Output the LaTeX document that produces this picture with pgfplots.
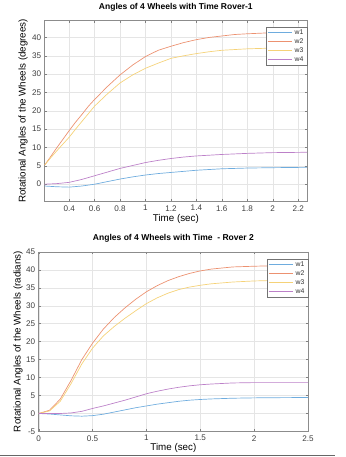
\documentclass[border=0pt]{standalone}
\usepackage{fontspec}
\setmainfont{Liberation Sans}
\usepackage{pgfplots}
\pgfplotsset{compat=1.18}
\definecolor{cw1}{RGB}{110,172,222}
\definecolor{cw2}{RGB}{236,145,112}
\definecolor{cw3}{RGB}{245,210,120}
\definecolor{cw4}{RGB}{188,128,200}
\pgfplotsset{
  myaxis/.style={
    scale only axis,
    anchor=south west,
    axis line style={draw=black!45, line width=0.5bp},
    grid=major,
    major grid style={draw=black!10, line width=0.4bp},
    tick style={draw=black!50, line width=0.4bp},
    tick align=inside,
    major tick length=2.5bp,
    /pgf/number format/assume math mode=true,
    ticklabel style={font=\fontsize{8.3}{9}\selectfont, text=black!75},
    xticklabel style={yshift=-0.5bp},
    label style={font=\fontsize{7.9}{9}\selectfont, text=black!80},
    title style={font=\bfseries\fontsize{8.7}{9.5}\selectfont, at={(0.5,1)}, anchor=south, yshift=0bp},
    legend style={draw=black!55, fill=white, font=\fontsize{7}{7.5}\selectfont, text=black!80,
      inner xsep=1.5bp, inner ysep=0.8bp, row sep=-1.2bp},
    legend cell align=left,
    legend image code/.code={\draw[##1] (0bp,0bp) -- (25bp,0bp);},
    every axis plot/.append style={line width=0.7bp},
  }
}
\begin{document}
\begin{tikzpicture}
\path (0bp,0bp) rectangle (351bp,457bp);
% top axis
\begin{axis}[myaxis,
  at={(45bp,260bp)}, width=267bp, height=184bp,
  xmin=0.207, xmax=2.27, ymin=-4.7, ymax=44.6,
  xtick={0.4,0.6,...,2.21}, ytick={0,5,...,40},
  title={Angles of 4 Wheels with Time Rover-1},
  xlabel={Time (sec)}, ylabel={Rotational Angles of the Wheels (degrees)},
  every axis x label/.style={at={([yshift=-18bp]axis description cs:0.5,0)}, anchor=center},
  every axis y label/.style={at={([xshift=-22bp]axis description cs:0,0.5)}, rotate=90, anchor=center},
  legend style={at={(1,0.967)}, anchor=north east},
]
\addplot[cw1] coordinates {(0.207,-0.5) (0.3,-0.7) (0.4,-0.8) (0.5,-0.5) (0.6,0.0) (0.7,0.7) (0.8,1.4) (0.9,2.0) (1.0,2.5) (1.1,2.9) (1.2,3.2) (1.3,3.5) (1.4,3.8) (1.5,4.0) (1.6,4.2) (1.8,4.4) (2.0,4.5) (2.27,4.6)};
\addplot[cw2] coordinates {(0.207,5.2) (0.25,7.3) (0.3,9.8) (0.35,12.2) (0.4,14.6) (0.45,16.9) (0.5,19.0) (0.55,21.2) (0.6,23.1) (0.7,26.6) (0.8,29.8) (0.9,32.5) (1.0,34.8) (1.1,36.5) (1.2,37.6) (1.3,38.6) (1.4,39.4) (1.5,40.0) (1.6,40.4) (1.7,40.8) (1.8,41.0) (2.0,41.3) (2.2,41.4) (2.27,41.4)};
\addplot[cw3] coordinates {(0.207,5.2) (0.25,7.0) (0.3,9.0) (0.35,10.9) (0.4,12.8) (0.45,15.0) (0.5,17.1) (0.55,19.2) (0.6,21.3) (0.7,24.6) (0.8,27.6) (0.9,29.8) (1.0,31.6) (1.1,33.0) (1.2,34.3) (1.3,35.0) (1.4,35.6) (1.5,36.1) (1.6,36.5) (1.7,36.7) (1.8,36.9) (2.0,37.1) (2.27,37.2)};
\addplot[cw4] coordinates {(0.207,0.0) (0.3,0.15) (0.4,0.5) (0.5,1.3) (0.6,2.3) (0.7,3.3) (0.8,4.3) (0.9,5.1) (1.0,5.9) (1.1,6.5) (1.2,7.0) (1.3,7.4) (1.4,7.7) (1.5,7.9) (1.6,8.1) (1.8,8.4) (2.0,8.6) (2.27,8.7)};
\legend{w1,w2,w3,w4}
\end{axis}
% bottom axis
\begin{axis}[myaxis,
  at={(39bp,26bp)}, width=274bp, height=182.7bp,
  xmin=0, xmax=2.5, ymin=-5, ymax=45,
  xtick={0,0.5,...,2.5}, ytick={-5,0,...,45},
  title={Angles of 4 Wheels with Time\ \ - Rover 2},
  xlabel={Time (sec)}, ylabel={Rotational Angles of the Wheels (radians)},
  every axis x label/.style={at={([yshift=-17bp]axis description cs:0.5,0)}, anchor=center},
  every axis y label/.style={at={([xshift=-21bp]axis description cs:0,0.5)}, rotate=90, anchor=center},
  legend style={at={(1,0.963)}, anchor=north east},
]
\addplot[cw1] coordinates {(0,0) (0.1,-0.15) (0.2,-0.4) (0.3,-0.65) (0.4,-0.75) (0.5,-0.6) (0.6,-0.2) (0.7,0.4) (0.8,1.0) (0.9,1.6) (1.0,2.1) (1.1,2.6) (1.2,3.0) (1.3,3.4) (1.4,3.7) (1.5,3.9) (1.6,4.05) (1.8,4.25) (2.0,4.35) (2.2,4.4) (2.5,4.45)};
\addplot[cw2] coordinates {(0,0) (0.1,0.9) (0.2,4.0) (0.3,9.2) (0.4,15.0) (0.5,19.6) (0.6,23.5) (0.7,26.7) (0.8,29.4) (0.9,31.8) (1.0,33.9) (1.1,35.6) (1.2,37.0) (1.3,38.1) (1.4,39.0) (1.5,39.7) (1.6,40.2) (1.8,40.8) (2.0,41.0) (2.2,41.15) (2.5,41.2)};
\addplot[cw3] coordinates {(0,0) (0.1,0.7) (0.2,3.4) (0.3,8.3) (0.4,13.8) (0.5,18.2) (0.6,21.6) (0.7,24.2) (0.8,26.5) (0.9,28.6) (1.0,30.6) (1.1,32.2) (1.2,33.5) (1.3,34.5) (1.4,35.2) (1.5,35.7) (1.6,36.1) (1.8,36.6) (2.0,36.9) (2.2,37.05) (2.5,37.1)};
\addplot[cw4] coordinates {(0,0) (0.1,0) (0.2,0) (0.3,0.15) (0.4,0.6) (0.5,1.4) (0.6,2.1) (0.7,2.9) (0.8,3.7) (0.9,4.6) (1.0,5.5) (1.1,6.2) (1.2,6.8) (1.3,7.3) (1.4,7.7) (1.5,8.0) (1.6,8.2) (1.8,8.5) (2.0,8.6) (2.5,8.6)};
\legend{w1,w2,w3,w4}
\end{axis}
\draw[black!60, line width=0.8bp] (0bp,2bp) -- (340bp,2bp);
\end{tikzpicture}
\end{document}
